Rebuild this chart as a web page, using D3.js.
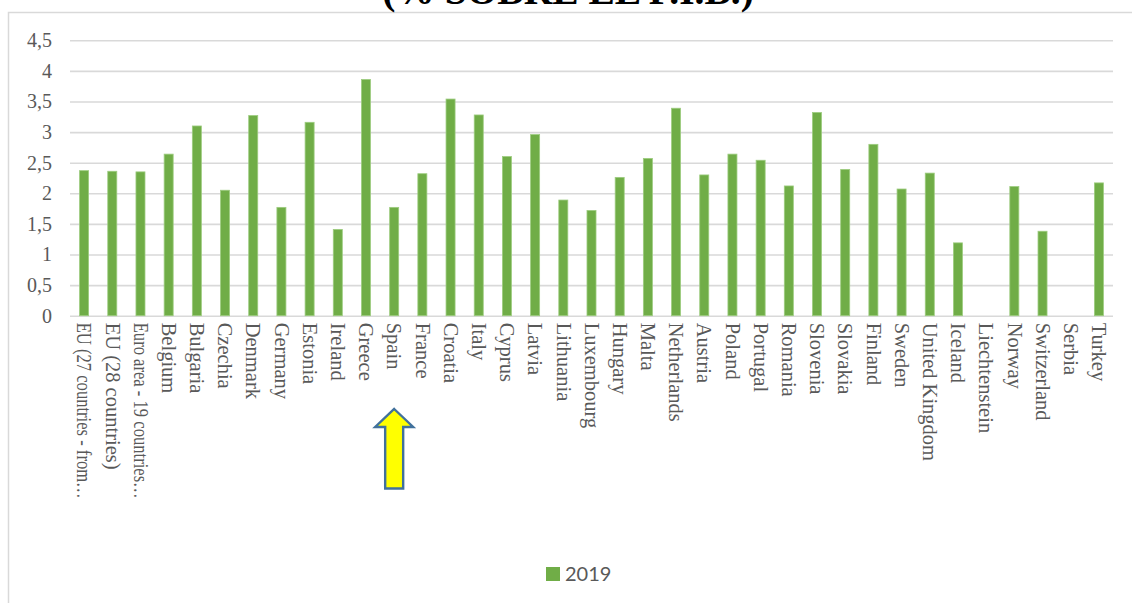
<!DOCTYPE html>
<html>
<head>
<meta charset="utf-8">
<script src="https://cdn.jsdelivr.net/npm/d3@7/dist/d3.min.js"></script>
<style>
  html, body { margin: 0; padding: 0; background: #ffffff; }
  svg { display: block; }
  .serif { font-family: "Liberation Serif", "Times New Roman", serif; }
</style>
</head>
<body>
<svg id="chart" width="1132" height="603"></svg>
<script>
// Gasto en I+D por país, 2019 (% sobre el PIB)
const categories = [
  "EU (27 countries - from 2020)", "EU (28 countries)", "Euro area - 19 countries (from 2015)",
  "Belgium", "Bulgaria", "Czechia", "Denmark", "Germany", "Estonia", "Ireland", "Greece",
  "Spain", "France", "Croatia", "Italy", "Cyprus", "Latvia", "Lithuania", "Luxembourg",
  "Hungary", "Malta", "Netherlands", "Austria", "Poland", "Portugal", "Romania", "Slovenia",
  "Slovakia", "Finland", "Sweden", "United Kingdom", "Iceland", "Liechtenstein", "Norway",
  "Switzerland", "Serbia", "Turkey"
];
const tickLabels = [
  "EU (27 countries - from\u2026", "EU (28 countries)", "Euro area - 19 countries\u2026",
  "Belgium", "Bulgaria", "Czechia", "Denmark", "Germany", "Estonia", "Ireland", "Greece",
  "Spain", "France", "Croatia", "Italy", "Cyprus", "Latvia", "Lithuania", "Luxembourg",
  "Hungary", "Malta", "Netherlands", "Austria", "Poland", "Portugal", "Romania", "Slovenia",
  "Slovakia", "Finland", "Sweden", "United Kingdom", "Iceland", "Liechtenstein", "Norway",
  "Switzerland", "Serbia", "Turkey"
];
// null = no data available
const values2019 = [
  2.37, 2.36, 2.35, 2.64, 3.10, 2.05, 3.27, 1.77, 3.16, 1.41, 3.86,
  1.77, 2.32, 3.54, 3.28, 2.60, 2.96, 1.89, 1.72, 2.26, 2.57, 3.39,
  2.30, 2.64, 2.54, 2.12, 3.32, 2.39, 2.80, 2.07, 2.33, 1.19, null,
  2.11, 1.38, null, 2.17
];
const yTicks = [0, 0.5, 1, 1.5, 2, 2.5, 3, 3.5, 4, 4.5];
const seriesName = "2019";
const titleText = "(% SOBRE EL P.I.B.)";
const highlighted = "Spain";

const svg = d3.select("#chart");
const textColor = "#595959";
const gridColor = "#d9d9d9";
const barColor = "#70ad47";
const maxLabelLength = 176;

// chart frame
svg.append("rect")
  .attr("x", 8.5).attr("y", 12.5)
  .attr("width", 1140).attr("height", 620)
  .attr("fill", "none").attr("stroke", gridColor).attr("stroke-width", 1.5);

// title (runs above the top edge)
svg.append("text")
  .attr("class", "serif")
  .attr("x", 568).attr("y", 3.5)
  .attr("text-anchor", "middle")
  .style("font-weight", "bold").style("font-size", "39.5px")
  .attr("fill", "#000")
  .text(titleText);

const plot = { left: 70, right: 1113, top: 40.3, bottom: 315.7 };

const x = d3.scaleBand()
  .domain(categories)
  .range([plot.left, plot.right])
  .paddingInner(0.68).paddingOuter(0.34);

const y = d3.scaleLinear()
  .domain([0, 4.5])
  .range([plot.bottom, plot.top]);

// horizontal gridlines and value labels
const yAxis = d3.axisLeft(y)
  .tickValues(yTicks)
  .tickSize(-(plot.right - plot.left))
  .tickPadding(18)
  .tickFormat(d => String(d).replace(".", ","));

const gy = svg.append("g")
  .attr("transform", `translate(${plot.left},0)`)
  .call(yAxis);
gy.attr("font-family", null).attr("font-size", null);
gy.select(".domain").remove();
gy.selectAll(".tick line").attr("stroke", gridColor).attr("stroke-width", 1.6);
gy.selectAll(".tick text")
  .attr("class", "serif")
  .attr("fill", textColor)
  .style("font-size", "20px");

// bars
svg.append("g").selectAll("rect")
  .data(categories.map((c, i) => ({ c, v: values2019[i] })).filter(d => d.v != null))
  .join("rect")
  .attr("x", d => x(d.c))
  .attr("y", d => y(d.v))
  .attr("width", x.bandwidth())
  .attr("height", d => y(0) - y(d.v))
  .attr("fill", barColor)
  .attr("stroke", "#9dcc7f").attr("stroke-width", 0.8);

// category labels, rotated to read downwards
const xAxis = d3.axisBottom(x)
  .tickSize(0)
  .tickFormat((d, i) => tickLabels[i]);
const gx = svg.append("g")
  .attr("transform", `translate(0,${plot.bottom})`)
  .call(xAxis);
gx.attr("font-family", null).attr("font-size", null);
gx.select(".domain").remove();
gx.selectAll(".tick text")
  .attr("class", "serif")
  .attr("fill", textColor)
  .style("font-size", "20.5px")
  .attr("text-anchor", "start")
  .attr("dy", "0.33em")
  .attr("transform", "translate(0,7) rotate(90)")
  .attr("x", 0).attr("y", 0)
  .each(function () {
    // fit over-long (truncated) labels into the available depth
    if (this.getComputedTextLength() > maxLabelLength) {
      d3.select(this).attr("textLength", maxLabelLength).attr("lengthAdjust", "spacingAndGlyphs");
    }
  });

// arrow pointing at the highlighted country
const ax = x(highlighted) + x.bandwidth() / 2;
const arrow = d3.path();
arrow.moveTo(ax, 409);
arrow.lineTo(ax + 19, 427);
arrow.lineTo(ax + 9, 427);
arrow.lineTo(ax + 9, 488.5);
arrow.lineTo(ax - 9, 488.5);
arrow.lineTo(ax - 9, 427);
arrow.lineTo(ax - 19, 427);
arrow.closePath();
svg.append("path")
  .attr("d", arrow.toString())
  .attr("fill", "#ffff00")
  .attr("stroke", "#41719c").attr("stroke-width", 2.4)
  .attr("stroke-linejoin", "miter");

// legend
const lg = svg.append("g").attr("transform", "translate(546,567)");
lg.append("rect").attr("width", 14).attr("height", 14).attr("fill", barColor);
lg.append("text")
  .attr("x", 19).attr("y", 14)
  .attr("fill", textColor)
  .style("font-family", "Lato, 'Open Sans', sans-serif").style("font-size", "20px")
  .text(seriesName);
</script>
</body>
</html>
